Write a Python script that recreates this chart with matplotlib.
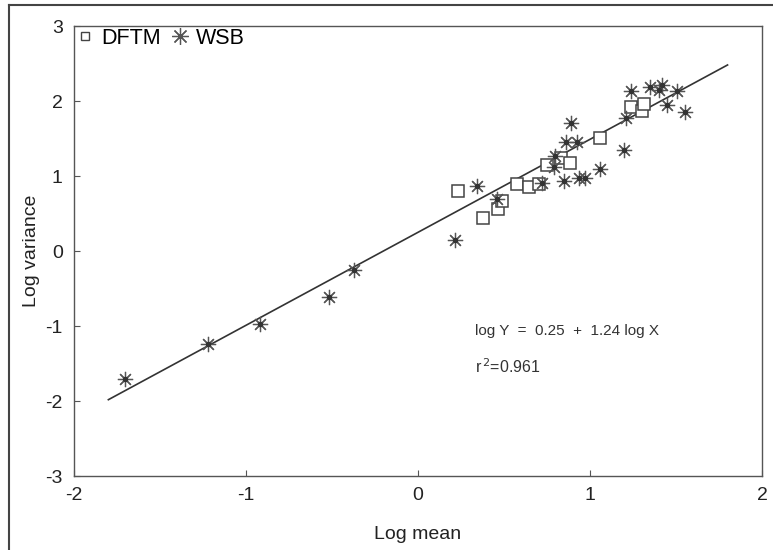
import numpy as np
import matplotlib
matplotlib.use("Agg")
import matplotlib.pyplot as plt
from matplotlib.lines import Line2D

plt.rcParams['font.family'] = ['Liberation Sans', 'DejaVu Sans']
plt.rcParams['axes.unicode_minus'] = False

# DFTM (open squares)
dftm_x = [0.231, 0.378, 0.465, 0.491, 0.576, 0.647, 0.702, 0.750, 0.833, 0.885,
          1.056, 1.238, 1.302, 1.312]
dftm_y = [0.800, 0.445, 0.557, 0.668, 0.892, 0.856, 0.900, 1.146, 1.247, 1.176,
          1.507, 1.916, 1.872, 1.961]

# WSB (asterisks)
wsb_x = [-1.703, -1.221, -0.919, -0.517, -0.372, 0.217, 0.343, 0.459, 0.721, 0.789,
         0.798, 0.862, 0.924, 0.891, 0.847, 0.934, 0.973, 1.056, 1.199, 1.211,
         1.240, 1.351, 1.399, 1.419, 1.506, 1.448, 1.551]
wsb_y = [-1.711, -1.243, -0.976, -0.615, -0.254, 0.143, 0.869, 0.691, 0.913, 1.123,
         1.270, 1.448, 1.448, 1.702, 0.936, 0.972, 0.972, 1.092, 1.346, 1.774,
         2.130, 2.183, 2.148, 2.219, 2.130, 1.948, 1.849]

# regression line log Y = a + b log X
intercept = 0.25
slope = 1.24
fit_x = np.array([-1.8, 1.8])

ink = '#333333'

fig = plt.figure(figsize=(7.73, 5.5), dpi=100)
ax = fig.add_axes([0.0957, 0.1345, 0.89, 0.818])

ax.plot(fit_x, intercept + slope * fit_x, color=ink, lw=1.2, zorder=2)

ax.plot(dftm_x, dftm_y, ls='none', marker='s', ms=8.5, mfc='white',
        mec='#444444', mew=1.1, label='DFTM', zorder=3)
ax.plot(wsb_x, wsb_y, ls='none', marker=(8, 2, 0), ms=11, mec='#555555',
        mew=0.9, label='WSB', zorder=4)
ax.plot(wsb_x, wsb_y, ls='none', marker='o', ms=3, color='#333333', zorder=5)

ax.text(0.33, -1.07, 'log Y  =  0.25  +  1.24 log X', fontsize=11, color=ink, va='center')
ax.text(0.33, -1.54, r'r$^{\,2}$=0.961', fontsize=11.5, color=ink, va='center')

ax.set_xlim(-2, 2)
ax.set_ylim(-3, 3)
ax.set_xticks([-2, -1, 0, 1, 2])
ax.set_yticks([-3, -2, -1, 0, 1, 2, 3])
ax.tick_params(direction='in', length=4, width=0.8, colors='#555555',
               labelcolor='#222222', labelsize=14, pad=8)
for s in ax.spines.values():
    s.set_color('#555555')
    s.set_linewidth(1.0)

ax.set_xlabel('Log mean', fontsize=14, color='#222222', labelpad=16)
ax.set_ylabel('Log variance', fontsize=14, color='#222222', labelpad=4)

handles = [Line2D([], [], ls='none', marker='s', ms=6, mfc='white', mec='#444444', mew=1),
           Line2D([], [], ls='none', marker=(8, 2, 0), ms=12, mec='#555555', mew=0.9)]
ax.legend(handles, ['DFTM', 'WSB'], loc='upper left', bbox_to_anchor=(-0.003, 1.006),
          ncol=2, frameon=False, fontsize=15.5, handlelength=0.8, handletextpad=0.35,
          columnspacing=0.5, borderaxespad=0.0, borderpad=0.2)

# scanned page border
fig.add_artist(Line2D([0.0116, 0.0116], [0.0, 0.991], transform=fig.transFigure,
                      color='#444444', lw=1.5))
fig.add_artist(Line2D([0.0116, 1.0], [0.991, 0.991], transform=fig.transFigure,
                      color='#444444', lw=1.5))

fig.savefig('out.png', dpi=100)
